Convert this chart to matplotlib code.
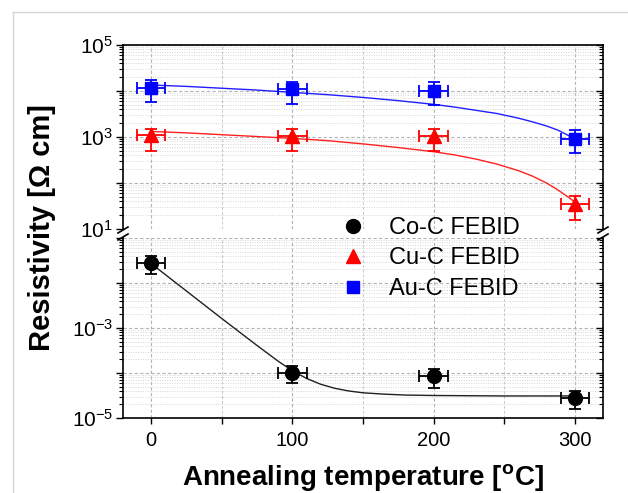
#!/usr/bin/env python3
"""
Resistivity of FEBID deposits vs annealing temperature.
Broken log axis: upper panel 10^1..10^5, lower panel 10^-5..10^-1.
"""

import matplotlib
matplotlib.use("Agg")
import matplotlib.pyplot as plt
from matplotlib.lines import Line2D
from matplotlib.ticker import FixedLocator, FuncFormatter, LogLocator, NullFormatter
import numpy as np

plt.rcParams['font.family'] = ['Liberation Sans', 'DejaVu Sans']
plt.rcParams['mathtext.fontset'] = 'custom'
plt.rcParams['mathtext.rm'] = 'Liberation Sans'
plt.rcParams['mathtext.bf'] = 'Liberation Sans:bold'
plt.rcParams['mathtext.default'] = 'regular'

# measured points
temps = [0, 100, 200, 300]
temp_err = [10, 10, 10, 10]

co_rho = [2.8e-2, 1.0e-4, 8.5e-5, 2.75e-5]
co_err = [1.2e-2, 4.1e-5, 3.8e-5, 1.15e-5]

cu_rho = [1100, 1050, 1050, 35]
cu_err_lo = [600, 550, 550, 19]
cu_err_hi = [380, 430, 430, 16]

au_rho = [11600, 10900, 10200, 900]
au_err_lo = [5800, 5700, 5200, 440]
au_err_hi = [5400, 5100, 5300, 500]

# fit curves (log10 values)
co_fit_t = [0, 25, 50, 75, 90, 100, 110, 120, 130, 140, 150, 165, 180, 200, 250, 300]
co_fit_log = [-1.57, -2.18, -2.79, -3.39, -3.74, -3.95, -4.12, -4.25, -4.34, -4.40,
              -4.44, -4.47, -4.49, -4.50, -4.51, -4.51]

fit_t = [0, 25, 50, 75, 100, 125, 150, 175, 200, 215, 230, 245, 260, 270, 280, 288, 295, 300]
cu_fit_log = [3.12, 3.09, 3.05, 3.01, 2.97, 2.92, 2.85, 2.77, 2.68, 2.61, 2.52, 2.41,
              2.27, 2.15, 2.00, 1.85, 1.70, 1.59]
au_fit_log = [4.13, 4.10, 4.06, 4.02, 3.97, 3.92, 3.86, 3.79, 3.71, 3.65, 3.58, 3.51,
              3.41, 3.33, 3.24, 3.15, 3.04, 2.96]

W, H = 628, 493


def fx(px):
    return px / W


def fy(py):
    return 1 - py / H


def make_formatter(labelled):
    def fmt(v, pos):
        e = int(round(np.log10(v)))
        if e not in labelled:
            return ''
        return r'$\mathdefault{10^{%d}}$' % e
    return FuncFormatter(fmt)


def style_axes(ax, decades, labelled, show_x):
    ax.set_yscale('log')
    ax.set_xlim(-20, 320)
    ax.set_ylim(10.0 ** decades[0], 10.0 ** decades[-1])
    ax.yaxis.set_major_locator(FixedLocator([10.0 ** d for d in decades]))
    ax.yaxis.set_major_formatter(make_formatter(labelled))
    ax.yaxis.set_minor_locator(LogLocator(base=10, subs=np.arange(2, 10), numticks=20))
    ax.yaxis.set_minor_formatter(NullFormatter())
    ax.set_xticks([0, 100, 200, 300])
    ax.set_xticks([50, 150, 250], minor=True)

    ax.grid(True, which='major', axis='both', color='#b4b4b4', linestyle=(0, (3, 2)), linewidth=0.8)
    ax.grid(True, which='minor', axis='y', color='#d6d6d6', linestyle=(0, (1, 1.5)), linewidth=0.7)
    ax.grid(True, which='minor', axis='x', color='#c8c8c8', linestyle=(0, (3, 2)), linewidth=0.7)
    ax.set_axisbelow(True)

    ax.tick_params(axis='y', which='major', direction='out', length=5, width=1.0,
                   labelsize=15, pad=2, right=False)
    ax.tick_params(axis='y', which='minor', direction='out', length=3, width=0.8, right=False)
    if show_x:
        ax.tick_params(axis='x', which='both', direction='out', length=4.5, width=1.0,
                       labelsize=14.5, pad=5, top=False)
    else:
        ax.tick_params(axis='x', which='both', bottom=False, top=False, labelbottom=False)

    for s in ax.spines.values():
        s.set_linewidth(1.2)

    # right-hand ticks point inward
    axr = ax.twinx()
    axr.set_yscale('log')
    axr.set_ylim(ax.get_ylim())
    axr.yaxis.set_major_locator(FixedLocator([10.0 ** d for d in decades]))
    axr.yaxis.set_minor_locator(LogLocator(base=10, subs=np.arange(2, 10), numticks=20))
    axr.yaxis.set_major_formatter(NullFormatter())
    axr.yaxis.set_minor_formatter(NullFormatter())
    axr.tick_params(axis='y', which='major', direction='in', length=5, width=1.0)
    axr.tick_params(axis='y', which='minor', direction='in', length=3, width=0.8)
    for s in axr.spines.values():
        s.set_visible(False)
    return axr


fig = plt.figure(figsize=(W / 100, H / 100), dpi=100)

ax_top = fig.add_axes([fx(123), fy(229), fx(603) - fx(123), fy(45) - fy(229)])
ax_bot = fig.add_axes([fx(123), fy(418), fx(603) - fx(123), fy(238) - fy(418)])

style_axes(ax_top, [1, 2, 3, 4, 5], {1, 3, 5}, show_x=False)
style_axes(ax_bot, [-5, -4, -3, -2, -1], {-5, -3}, show_x=True)
ax_top.spines['bottom'].set_visible(False)
ax_bot.spines['top'].set_visible(False)

eb_kw = dict(linestyle='none', elinewidth=1.3, capsize=4, capthick=1.3, zorder=5)

ax_top.plot(fit_t, 10.0 ** np.array(au_fit_log), color='#1f1fff', lw=1.0, zorder=4)
ax_top.plot(fit_t, 10.0 ** np.array(cu_fit_log), color='#ff2020', lw=1.0, zorder=4)
ax_bot.plot(co_fit_t, 10.0 ** np.array(co_fit_log), color='#202020', lw=1.0, zorder=4)

ax_top.errorbar(temps, au_rho, xerr=temp_err, yerr=[au_err_lo, au_err_hi],
                marker='s', markersize=8, color='#0000ff', **eb_kw)
ax_top.errorbar(temps, cu_rho, xerr=temp_err, yerr=[cu_err_lo, cu_err_hi],
                marker='^', markersize=10, color='#ff0000', **eb_kw)
ax_bot.errorbar(temps, co_rho, xerr=temp_err, yerr=co_err,
                marker='o', markersize=10, color='#000000', **eb_kw)

# axis break marks
for xp in (123, 603):
    for yp in (230, 237):
        fig.add_artist(Line2D([fx(xp - 5), fx(xp + 5)], [fy(yp + 3), fy(yp - 3)],
                              color='black', lw=1.2))

handles = [
    Line2D([], [], linestyle='none', marker='o', markersize=10, color='#000000'),
    Line2D([], [], linestyle='none', marker='^', markersize=10, color='#ff0000'),
    Line2D([], [], linestyle='none', marker='s', markersize=8, color='#0000ff'),
]
fig.legend(handles, ['Co-C FEBID', 'Cu-C FEBID', 'Au-C FEBID'],
           loc='upper left', bbox_to_anchor=(fx(342), fy(217)), frameon=False,
           fontsize=17, handlelength=0.9, handletextpad=1.1, labelspacing=0.36,
           borderpad=0, borderaxespad=0)

fig.text(fx(363), fy(485), r'Annealing temperature [$^{\mathbf{o}}$C]', ha='center',
         va='baseline', fontsize=20, fontweight='bold')
fig.text(fx(42), fy(228), 'Resistivity [\u03a9 cm]', ha='center', va='center',
         rotation=90, fontsize=21, fontweight='bold')

# light frame at top/left of the figure
fig.add_artist(Line2D([fx(13), fx(13)], [fy(12), 0], color='#d4d4d4', lw=1.0))
fig.add_artist(Line2D([fx(13), 1], [fy(12), fy(12)], color='#d4d4d4', lw=1.0))

fig.savefig('out.png', dpi=100)
